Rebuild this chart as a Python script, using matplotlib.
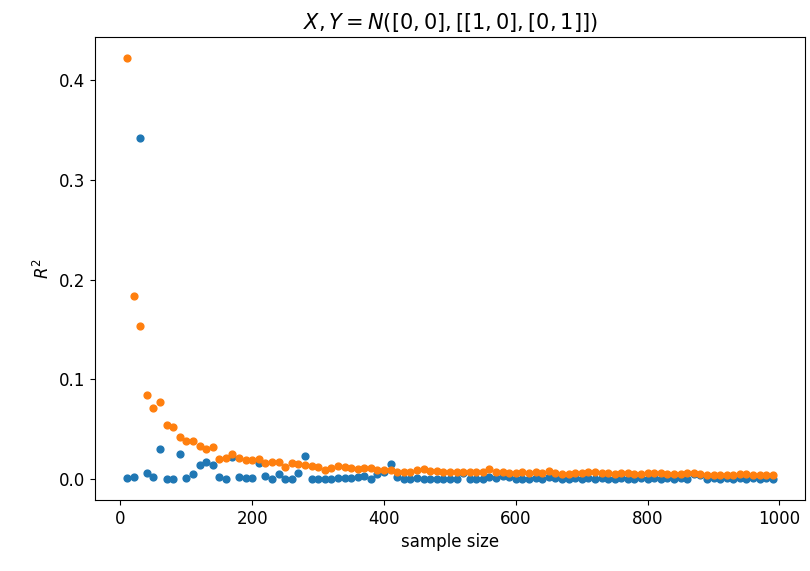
"""
Scatter of R^2 against sample size for two uncorrelated normal variables.
"""

import matplotlib
matplotlib.use("Agg")
import matplotlib.pyplot as plt

sample_sizes = list(range(10, 1000, 10))

# R^2 (blue series)
r2_blue = [
    0.001, 0.002, 0.342, 0.006, 0.002, 0.030, 0.0005, 0.000, 0.025, 0.001,
    0.005, 0.014, 0.017, 0.014, 0.002, 0.000, 0.022, 0.002, 0.001, 0.001,
    0.016, 0.003, 0.000, 0.005, 0.000, 0.000, 0.006, 0.023, 0.000, 0.000,
    0.000, 0.0003, 0.001, 0.001, 0.001, 0.002, 0.003, 0.000, 0.005, 0.007,
    0.015, 0.002, 0.000, 0.000, 0.001, 0.000, 0.000, 0.000, 0.000, 0.000,
    0.000, 0.006, 0.000, 0.000, 0.000, 0.002, 0.001, 0.003, 0.002, 0.000,
    0.000, 0.000, 0.001, 0.000, 0.002, 0.001, 0.000, 0.000, 0.001, 0.000,
    0.001, 0.000, 0.001, 0.000, 0.000, 0.001, 0.000, 0.000, 0.001, 0.000,
    0.001, 0.000, 0.001, 0.000, 0.001, 0.000, 0.005, 0.004, 0.000, 0.001,
    0.000, 0.001, 0.000, 0.001, 0.000, 0.001, 0.000, 0.001, 0.000,
]

# R^2 (orange series)
r2_orange = [
    0.422, 0.184, 0.154, 0.084, 0.071, 0.077, 0.054, 0.052, 0.042, 0.038,
    0.038, 0.033, 0.030, 0.032, 0.020, 0.021, 0.025, 0.021, 0.019, 0.019,
    0.020, 0.016, 0.017, 0.017, 0.012, 0.016, 0.015, 0.014, 0.013, 0.012,
    0.009, 0.011, 0.013, 0.012, 0.011, 0.010, 0.011, 0.011, 0.009, 0.009,
    0.009, 0.007, 0.007, 0.007, 0.009, 0.010, 0.008, 0.008, 0.007, 0.007,
    0.007, 0.007, 0.007, 0.007, 0.007, 0.010, 0.007, 0.007, 0.006, 0.006,
    0.007, 0.006, 0.007, 0.006, 0.008, 0.006, 0.005, 0.005, 0.006, 0.006,
    0.007, 0.007, 0.006, 0.006, 0.005, 0.006, 0.006, 0.005, 0.005, 0.006,
    0.006, 0.006, 0.005, 0.005, 0.005, 0.006, 0.006, 0.005, 0.004, 0.004,
    0.004, 0.004, 0.004, 0.005, 0.005, 0.004, 0.004, 0.004, 0.004,
]

fig = plt.figure(figsize=(8.1, 5.71), dpi=100)
ax = fig.add_subplot(111)
fig.subplots_adjust(left=0.117, right=0.994, top=0.935, bottom=0.124)

ax.scatter(sample_sizes, r2_blue, color="#1f77b4", s=24)
ax.scatter(sample_sizes, r2_orange, color="#ff7f0e", s=24)

ax.set_title(r"$X, Y = N([0, 0], [[1, 0], [0, 1]])$", fontsize=15)
ax.set_xlabel("sample size", fontsize=12)
ax.set_ylabel(r"$R^2$", fontsize=12)
ax.tick_params(labelsize=12)

fig.savefig("out.png", dpi=100)
